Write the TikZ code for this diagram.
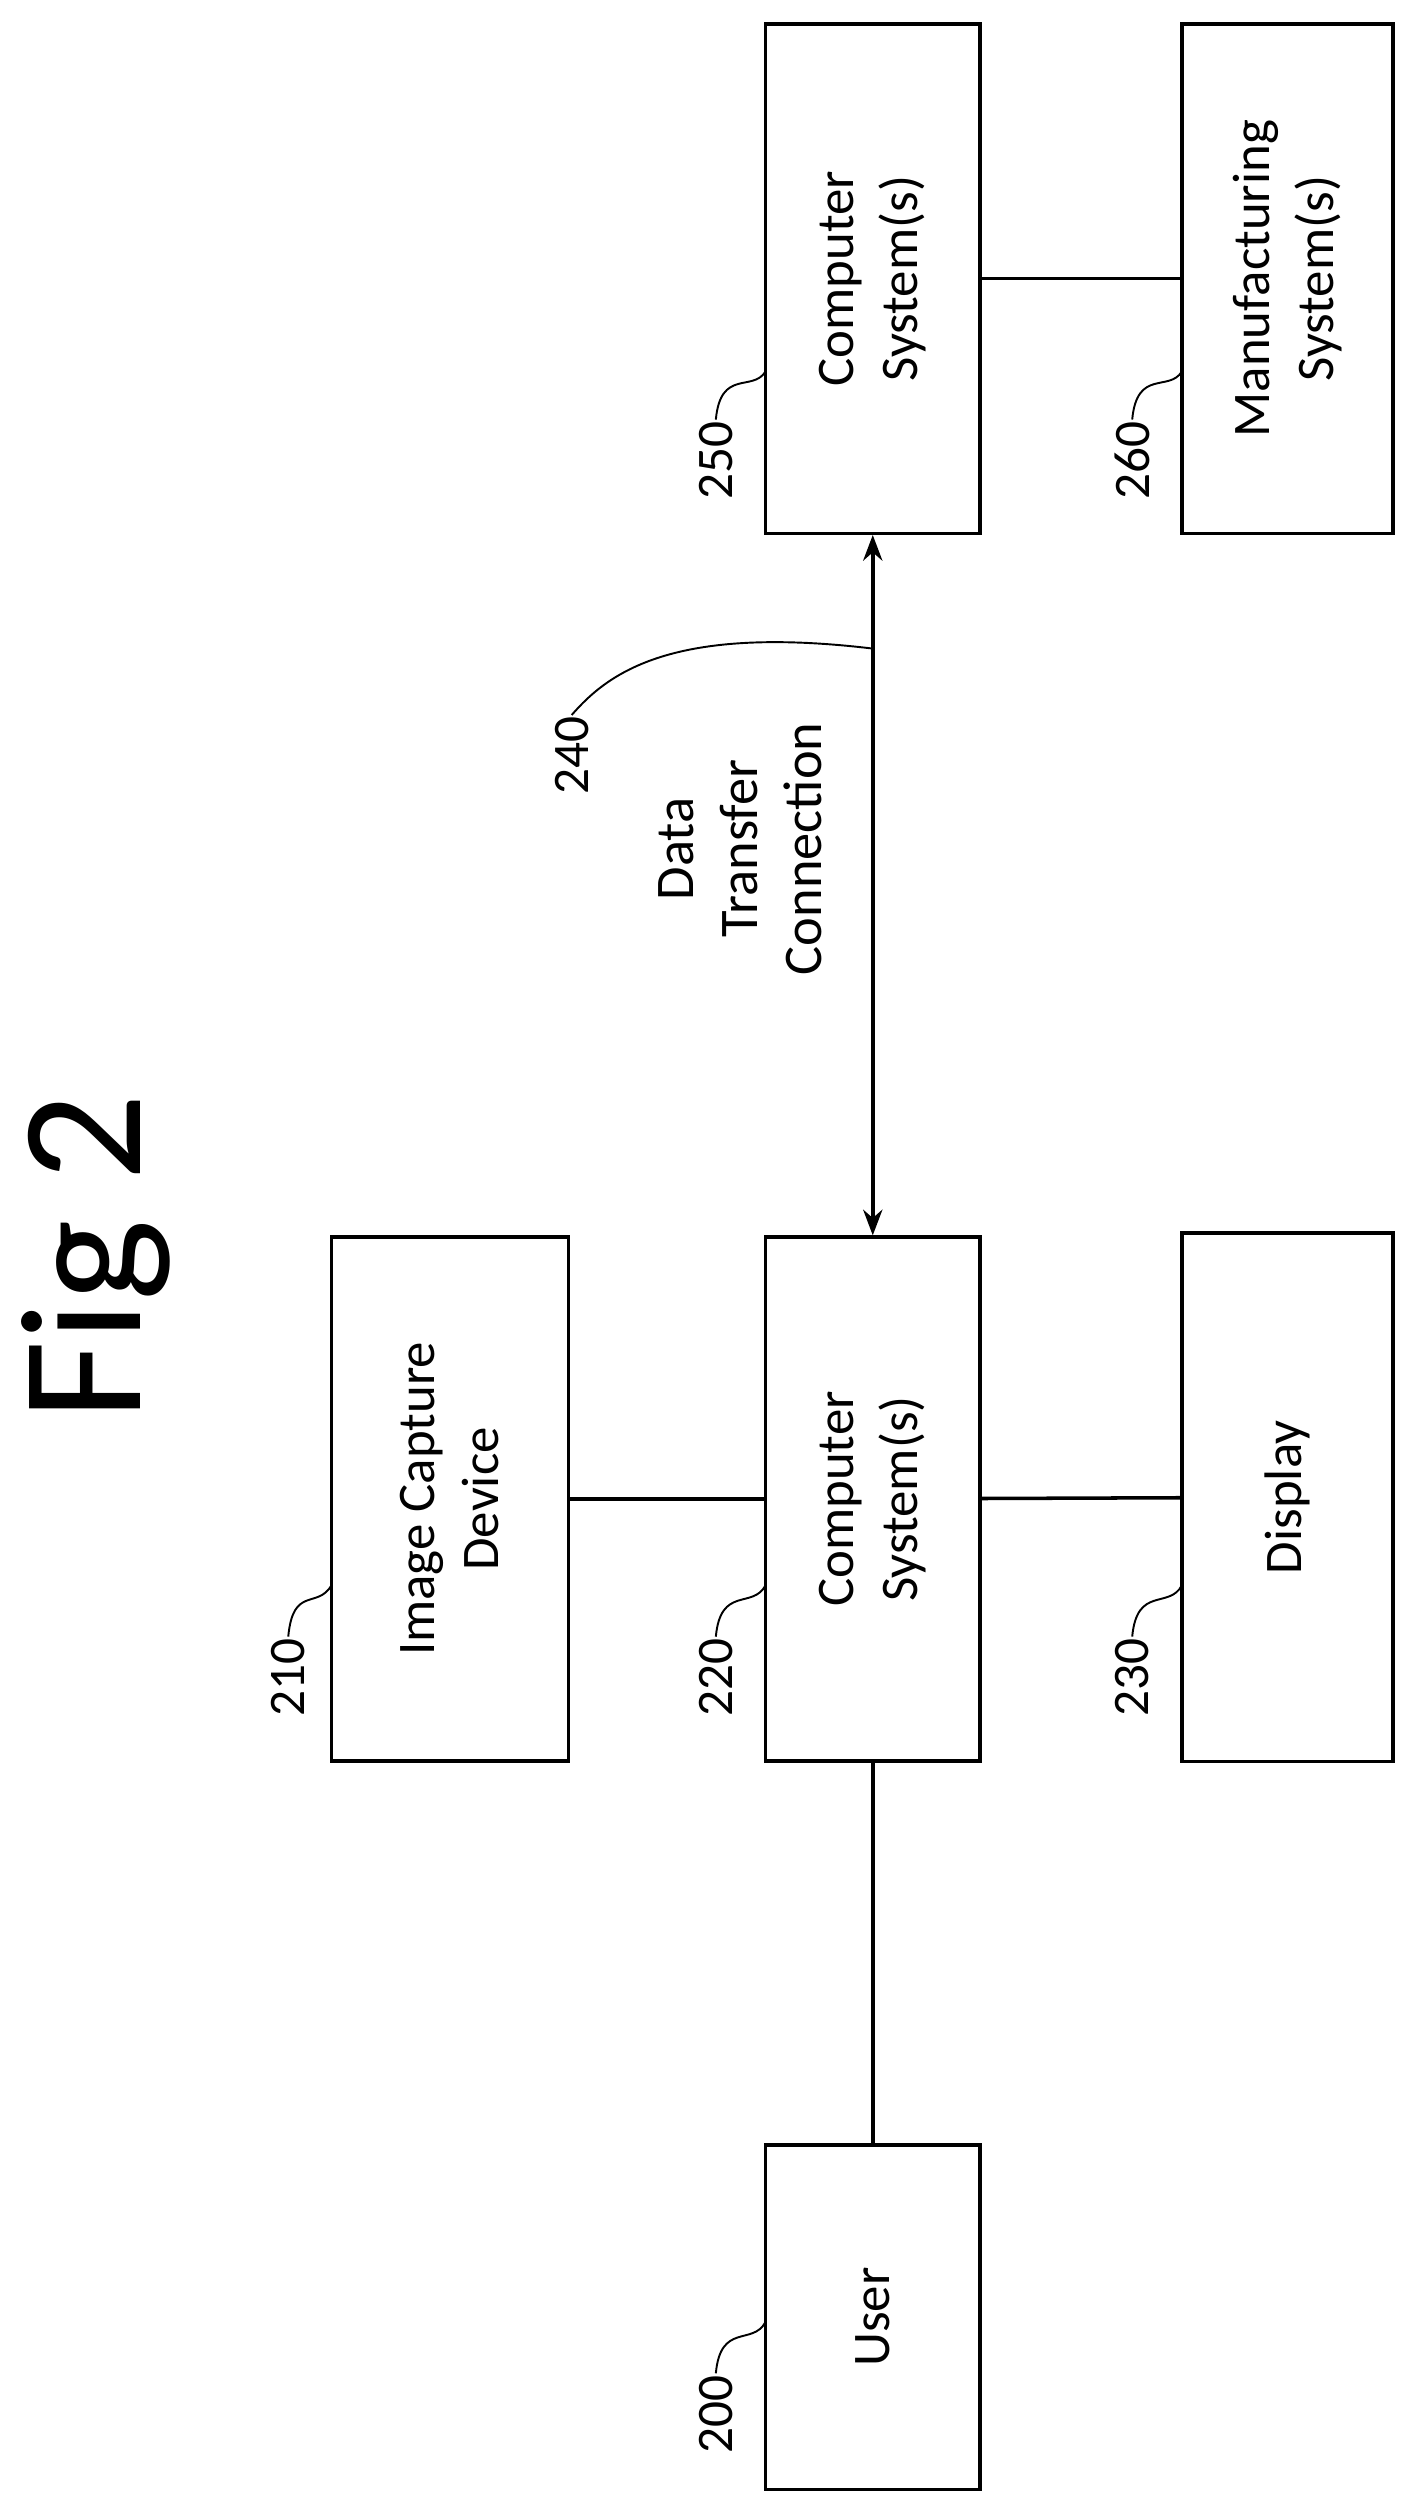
\documentclass[tikz,border=0pt]{standalone}
\usepackage{fontspec}
\setmainfont{Carlito}
\usetikzlibrary{arrows.meta}
\begin{document}
\begin{tikzpicture}[x=1pt,y=-1pt,
 box/.style={draw,line width=2.2pt,inner sep=0pt,rotate=90,align=center,font=\fontsize{33}{40}\selectfont},
 lab/.style={rotate=90,font=\fontsize{32}{38}\selectfont,inner sep=1pt},
 ln/.style={line width=2.2pt},
 ld/.style={line width=1.2pt}]
\useasboundingbox (0,0) rectangle (891,1568);
\node[box,minimum width=318pt,minimum height=134pt] (b250) at (545,174) {Computer\\System(s)};
\node[box,minimum width=318pt,minimum height=132pt] (b260) at (804,174) {Manufacturing\\System(s)};
\node[box,minimum width=327pt,minimum height=148pt] (b210) at (281,936) {Image Capture\\Device};
\node[box,minimum width=327pt,minimum height=134pt] (b220) at (545,936) {Computer\\System(s)};
\node[box,minimum width=330pt,minimum height=132pt] (b230) at (804,935) {Display};
\node[box,minimum width=215pt,minimum height=134pt] (b200) at (545,1447) {User};
\draw[ln] (b210) -- (b220);
\draw[ln] (b220) -- (b230);
\draw[ln] (b250) -- (b260);
\draw[ln] (b200) -- (b220);
\draw[ln,{Stealth[length=16pt,width=12pt]}-{Stealth[length=16pt,width=12pt]}] (b220) -- (b250);
\node[rotate=90,font=\fontsize{108}{112}\selectfont] (fig) at (60,785) {Fig 2};
\node[lab,align=center,font=\fontsize{34}{40}\selectfont] (dtc) at (462,530) {Data\\Transfer\\Connection};
\node[lab] (l240) at (357,472) {240};
\coordinate (c240) at (545,405);
\draw[ld] (l240.east) .. controls (380,420) and (420,390) .. (c240);
\coordinate (e250) at (478,232); \coordinate (e260) at (738,232);
\coordinate (e210) at (207,990); \coordinate (e220) at (478,990);
\coordinate (e230) at (738,990); \coordinate (e200) at (478,1450);
\node[lab,anchor=east] (l250) at (447,262) {250};
\draw[ld] (l250.east) .. controls (450,230) and (470,245) .. (e250);
\node[lab,anchor=east] (l260) at (707,262) {260};
\draw[ld] (l260.east) .. controls (710,230) and (730,245) .. (e260);
\node[lab,anchor=east] (l210) at (180,1022) {210};
\draw[ld] (l210.east) .. controls (183,990) and (198,1005) .. (e210);
\node[lab,anchor=east] (l220) at (447,1022) {220};
\draw[ld] (l220.east) .. controls (450,990) and (470,1005) .. (e220);
\node[lab,anchor=east] (l230) at (707,1022) {230};
\draw[ld] (l230.east) .. controls (710,990) and (730,1005) .. (e230);
\node[lab,anchor=east] (l200) at (447,1482) {200};
\draw[ld] (l200.east) .. controls (450,1450) and (470,1465) .. (e200);
\end{tikzpicture}
\end{document}
